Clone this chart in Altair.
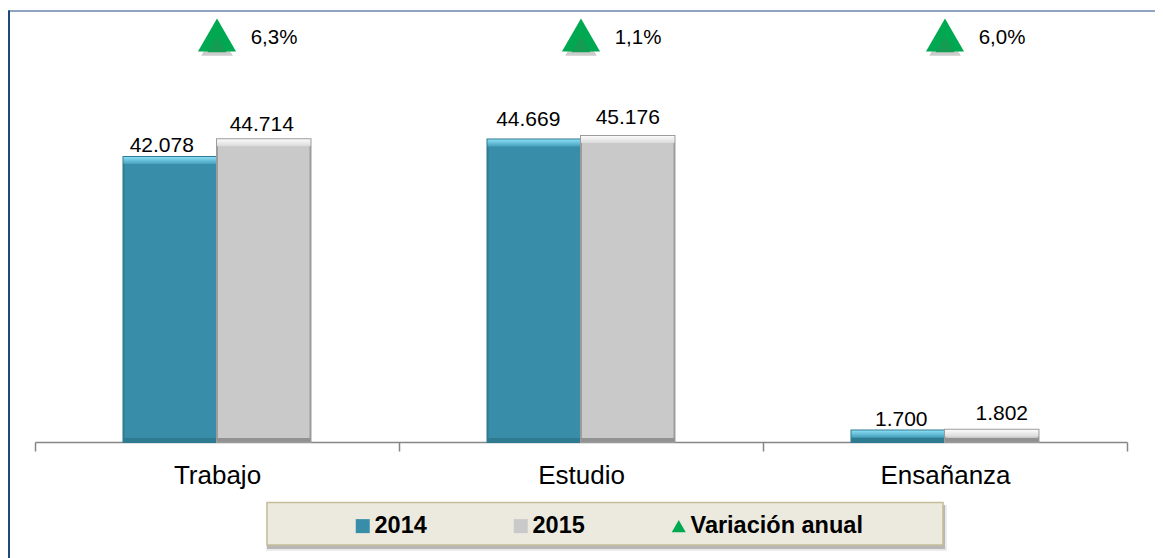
import altair as alt
import pandas as pd

categories = ["Trabajo", "Estudio", "Ensañanza"]
serie_2014 = [42078, 44669, 1700]
serie_2015 = [44714, 45176, 1802]
variacion = ["6,3%", "1,1%", "6,0%"]
etiquetas_2014 = ["42.078", "44.669", "1.700"]
etiquetas_2015 = ["44.714", "45.176", "1.802"]

TEAL, GREY, GREEN = "#388EA8", "#C9C9C9", "#00A851"
SERIES = ["2014", "2015", "Variación anual"]
FONT = "Liberation Sans"

rows = []
for i, c in enumerate(categories):
    rows.append(dict(cat=c, serie="2014", valor=serie_2014[i], etiqueta=etiquetas_2014[i], cero=0))
    rows.append(dict(cat=c, serie="2015", valor=serie_2015[i], etiqueta=etiquetas_2015[i], cero=0))
bars = pd.DataFrame(rows)
var = pd.DataFrame(dict(cat=categories, serie="Variación anual", texto=variacion))

YMAX = 63500
ROW = 60100
x_scale = alt.Scale(domain=categories, paddingInner=0, paddingOuter=0)
y_scale = alt.Scale(domain=[0, YMAX], nice=False, zero=True)
offset_scale = alt.Scale(domain=["2014", "2015"], paddingInner=0, paddingOuter=0.9465)
color_scale = alt.Scale(domain=SERIES, range=[TEAL, GREY, GREEN])
shape_scale = alt.Scale(domain=SERIES, range=["square", "square", "triangle-up"])

X = alt.X("cat:N", scale=x_scale, sort=categories, title=None,
          axis=alt.Axis(tickBand="extent", domainColor="#868686", tickColor="#868686", tickSize=9,
                        domainWidth=1.5, tickWidth=1.5,
                        labelFont=FONT, labelFontSize=26, labelColor="#000000", labelAngle=0,
                        labelPadding=11, grid=False))
XO = alt.XOffset("serie:N", scale=offset_scale, sort=["2014", "2015"])
Y = alt.Y("valor:Q", scale=y_scale, axis=None)
legend = alt.Legend(
    title=None, orient="none", legendX=314, legendY=502, direction="horizontal",
    columns=3, gridAlign="each", columnPadding=80, symbolSize=196, symbolOffset=2,
    labelFont=FONT, labelFontSize=23.5, labelFontWeight="bold", labelColor="#000000",
    labelOffset=0, labelLimit=400, symbolStrokeWidth=0, padding=0, zindex=1)


def fixed(px1, py1, px2, py2, color, **kw):
    return alt.Chart(pd.DataFrame({"a": [1]})).mark_rect(color=color, **kw).encode(
        x=alt.value(px1), x2=alt.value(px2), y=alt.value(py1), y2=alt.value(py2))


# frame: plot area origin is at page (35, 12)
frame_top = fixed(-27, -1.5, 1120, -0.5, "#1F497D")
frame_left = fixed(-27, -1.5, -25, 546, "#1F497D")

# legend box
box_shadow2 = fixed(231, 493, 912, 539, "#000000", opacity=0.08)
box_shadow = fixed(232, 493, 910, 537, "#000000", opacity=0.22)
box = fixed(232, 490.5, 908, 533, "#ECEADF", stroke="#C4BD97", strokeWidth=1.5)

base = alt.Chart(bars)


def one(serie):
    return base.transform_filter(alt.datum.serie == serie)


def grad(c1, c2):
    return alt.Gradient(gradient="linear", x1=0, x2=0, y1=0, y2=1,
                        stops=[alt.GradientStop(color=c1, offset=0), alt.GradientStop(color=c2, offset=1)])


bevel = []
for s, side, main, top1, top2, bottom in [
    ("2014", "#2E7A91", TEAL, "#8ADDF3", "#45A0BC", "#2E7A91"),
    ("2015", "#9C9C9C", GREY, "#FBFBFB", "#DADADA", "#929292"),
]:
    bevel.append(one(s).mark_bar(color=main, stroke=side, strokeWidth=2).encode(x=X, xOffset=XO, y=Y))
    bevel.append(one(s).mark_rect(color=grad(top1, top2), y2Offset=7).encode(
        x=X, xOffset=XO, y=Y, y2=alt.Y2("valor:Q")))
    bevel.append(one(s).mark_rect(color=bottom, y2Offset=-4).encode(
        x=X, xOffset=XO, y=alt.Y("cero:Q", scale=y_scale, axis=None), y2=alt.Y2("cero:Q")))

# value labels, each nudged as in the reference
nudges = {"42.078": (-8.5, -11), "44.714": (-2, -14), "44.669": (-6, -20),
          "45.176": (0, -18), "1.700": (3, -10), "1.802": (10, -16)}
labels = [
    base.transform_filter(alt.datum.etiqueta == k)
    .mark_text(font=FONT, fontSize=21, color="#000000", dx=dx, dy=dy)
    .encode(x=X, xOffset=XO, y=Y, text="etiqueta:N")
    for k, (dx, dy) in nudges.items()
]

vb = alt.Chart(var)
Xc = alt.X("cat:N", scale=x_scale, sort=categories, title=None)
Yrow = alt.YDatum(ROW, scale=y_scale, axis=None)
tri_shadow = vb.mark_point(filled=True, shape="triangle-up", size=1000, color="#000000",
                           opacity=0.2, yOffset=7, stroke=None).encode(x=Xc, y=Yrow)
tri = vb.mark_point(filled=True, size=1450, stroke=None, opacity=1).encode(
    x=Xc, y=Yrow,
    color=alt.Color("serie:N", scale=color_scale, legend=legend),
    shape=alt.Shape("serie:N", scale=shape_scale, legend=legend))
tri_in = vb.mark_point(filled=True, size=360, stroke=None, opacity=1, shape="triangle-up",
                       color="#149C52", yOffset=9).encode(x=Xc, y=Yrow)
tri_text = vb.mark_text(font=FONT, fontSize=20.5, color="#000000", dx=57, dy=3).encode(
    x=Xc, y=Yrow, text="texto:N")

chart = alt.layer(
    frame_top, frame_left, box_shadow2, box_shadow, box, *bevel,
    *labels, tri_shadow, tri, tri_in, tri_text,
).properties(
    width=1092, height=430,
    padding={"left": 27, "top": 4, "right": 28, "bottom": 116},
    autosize=alt.AutoSizeParams(type="none"),
).configure_view(stroke=None)

chart.save("out.html", embed_options={"renderer": "svg", "actions": False})
